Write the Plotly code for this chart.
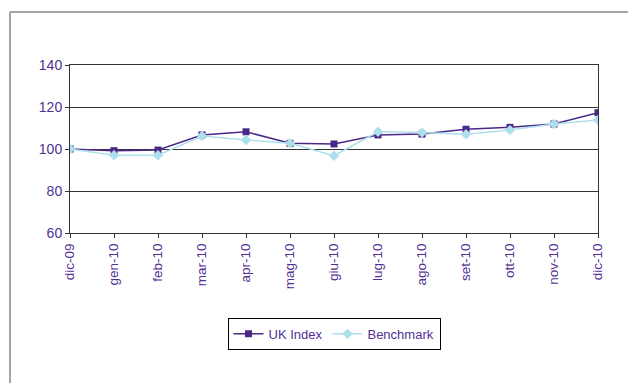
import plotly.graph_objects as go

months = ["dic-09", "gen-10", "feb-10", "mar-10", "apr-10", "mag-10", "giu-10",
          "lug-10", "ago-10", "set-10", "ott-10", "nov-10", "dic-10"]
uk_index = [100, 99.2, 99.5, 106.7, 108.2, 102.7, 102.4, 106.7, 107.1, 109.4, 110.3, 111.9, 117.3]
benchmark = [100, 97.0, 97.0, 106.2, 104.3, 102.7, 96.8, 108.2, 107.8, 107.0, 109.0, 111.9, 113.8]
y_ticks = [60, 80, 100, 120, 140]

txt = "#4f3194"
fig = go.Figure()
fig.add_trace(go.Scatter(x=months, y=uk_index, name="UK Index", mode="lines+markers",
                         line=dict(color="#4a2888", width=1.5),
                         marker=dict(symbol="square", size=7, color="#4a2888")))
fig.add_trace(go.Scatter(x=months, y=benchmark, name="Benchmark", mode="lines+markers",
                         line=dict(color="#aee0ec", width=1.5),
                         marker=dict(symbol="diamond", size=8, color="#aee0ec")))

# page offset of 8px (body margin); plot area on page: x 70..598, y 65..233
W, H = 628, 375
L, T, R, B = 62, 57, 590, 225
pw, ph = R - L, B - T
fx = (2 - L) / pw
fy = (B - 4) / ph

fig.update_layout(
    width=W, height=H,
    margin=dict(l=L, r=W - R, t=T, b=H - B),
    paper_bgcolor="white", plot_bgcolor="white",
    font=dict(family="Liberation Sans, Arial, sans-serif", size=13, color=txt),
    showlegend=True,
    legend=dict(orientation="h", x=0.5, xanchor="center", y=-0.505, yanchor="top",
                bordercolor="black", borderwidth=1, font=dict(size=13, color=txt),
                itemwidth=30, tracegroupgap=0),
    xaxis=dict(type="category", range=[0, 12], tickangle=-90, showgrid=False,
               showline=True, linecolor="#333", linewidth=1, mirror=True,
               ticks="outside", ticklen=4, tickcolor="#333",
               tickfont=dict(size=13.5, color=txt)),
    yaxis=dict(range=[60, 140], tickvals=y_ticks, showgrid=True, gridcolor="#333", gridwidth=1,
               showline=True, linecolor="#333", linewidth=1, mirror=True,
               ticks="outside", ticklen=4, tickcolor="#333", zeroline=False,
               tickfont=dict(size=14, color=txt)),
    shapes=[
        dict(type="line", xref="paper", yref="paper", x0=fx, x1=2, y0=fy, y1=fy,
             line=dict(color="#888", width=1.5)),
        dict(type="line", xref="paper", yref="paper", x0=fx, x1=fx, y0=fy, y1=-2,
             line=dict(color="#888", width=1.5)),
    ],
)
fig.write_html("out.html")
